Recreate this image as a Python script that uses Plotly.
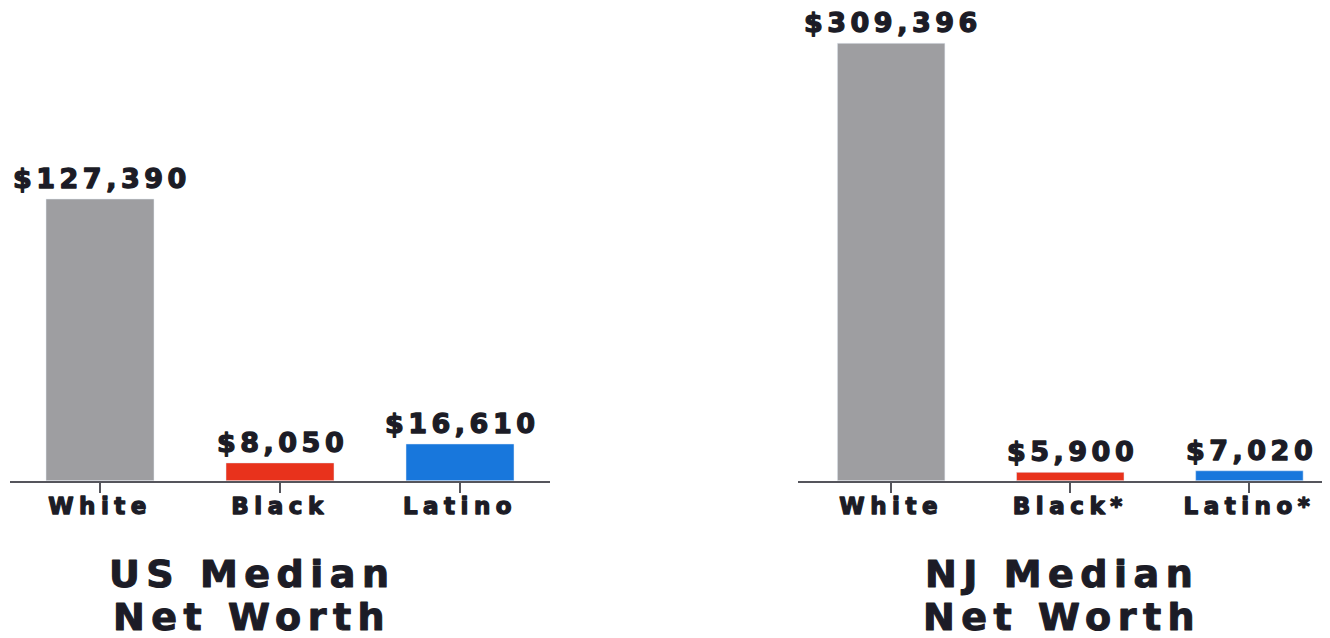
import plotly.graph_objects as go

# ---- data ----
us_categories = ["White", "Black", "Latino"]
us_values = [127390, 8050, 16610]
nj_categories = ["White", "Black*", "Latino*"]
nj_values = [309396, 5900, 7020]
bar_colors = ["#9e9ea1", "#e8321c", "#1877dc"]
titles = [["US Median", "Net Worth"], ["NJ Median", "Net Worth"]]

# the page body has an 8px margin; work in reference pixels and convert
OFF = 8
W, H = 1330 - OFF, 638 - OFF
TEXT = "#1c1c26"
FONT = "DejaVu Sans"


def styled(s, spacing, stroke):
    return (f"<span style='letter-spacing:{spacing}px;stroke:{TEXT};"
            f"stroke-width:{stroke}px;stroke-linejoin:round'>{s}</span>")


def px(x):
    return (x - OFF) / W


def py(y):
    return 1 - (y - OFF) / H


fig = go.Figure()
fig.add_trace(go.Bar(x=us_categories, y=us_values, marker_color=bar_colors,
                     width=0.6, xaxis="x", yaxis="y", hoverinfo="skip"))
fig.add_trace(go.Bar(x=nj_categories, y=nj_values, marker_color=bar_colors,
                     width=0.6, xaxis="x2", yaxis="y2", hoverinfo="skip"))

annotations = []
for cats, vals, xr, yr in [(us_categories, us_values, "x", "y"),
                           (nj_categories, nj_values, "x2", "y2")]:
    for c, v in zip(cats, vals):
        annotations.append(dict(
            x=c, y=v, xref=xr, yref=yr, xanchor="center", yanchor="bottom",
            yshift=3, xshift=2, showarrow=False,
            text=styled(f"${v:,}", 4.5, 1.3),
            font=dict(family=FONT, size=27, color=TEXT, weight="bold")))

for (l1, l2), cx in zip(titles, [252, 1062]):
    for txt, cy in [(l1, 574), (l2, 617)]:
        annotations.append(dict(
            x=px(cx), y=py(cy), xref="paper", yref="paper",
            xanchor="center", yanchor="middle", showarrow=False,
            text=styled(txt, 6.5, 1.1),
            font=dict(family=FONT, size=38, color=TEXT, weight="bold")))

axis_y = 480.7 - OFF
ydom = [(H - axis_y) / H, 1.0]

common_x = dict(showgrid=False, zeroline=False, showline=True, linecolor="#55555c",
                linewidth=2, ticks="outside", ticklen=10, tickwidth=2,
                tickcolor="#55555c", ticklabelstandoff=-6,
                tickfont=dict(family=FONT, size=23, color=TEXT, weight="bold"),
                fixedrange=True)
common_y = dict(visible=False, showgrid=False, zeroline=False, fixedrange=True)

fig.update_layout(
    width=W, height=H, autosize=False,
    margin=dict(l=0, r=0, t=0, b=0),
    paper_bgcolor="#ffffff", plot_bgcolor="rgba(0,0,0,0)",
    showlegend=False,
    xaxis=dict(domain=[px(10), px(550)], range=[-0.5, 2.5], anchor="y",
               tickvals=us_categories,
               ticktext=[styled(c, 5.5, 1.3) for c in us_categories], **common_x),
    yaxis=dict(domain=ydom, range=[0, 127390 * axis_y / 281.7], anchor="x", **common_y),
    xaxis2=dict(domain=[px(798), 1.0], range=[-0.52, 2.45], anchor="y2",
                tickvals=nj_categories,
                ticktext=[styled(c, 5.5, 1.3) for c in nj_categories], **common_x),
    yaxis2=dict(domain=ydom, range=[0, 309396 * axis_y / 437.4], anchor="x2", **common_y),
    annotations=annotations,
)

fig.write_html("out.html", config={"displayModeBar": False})
